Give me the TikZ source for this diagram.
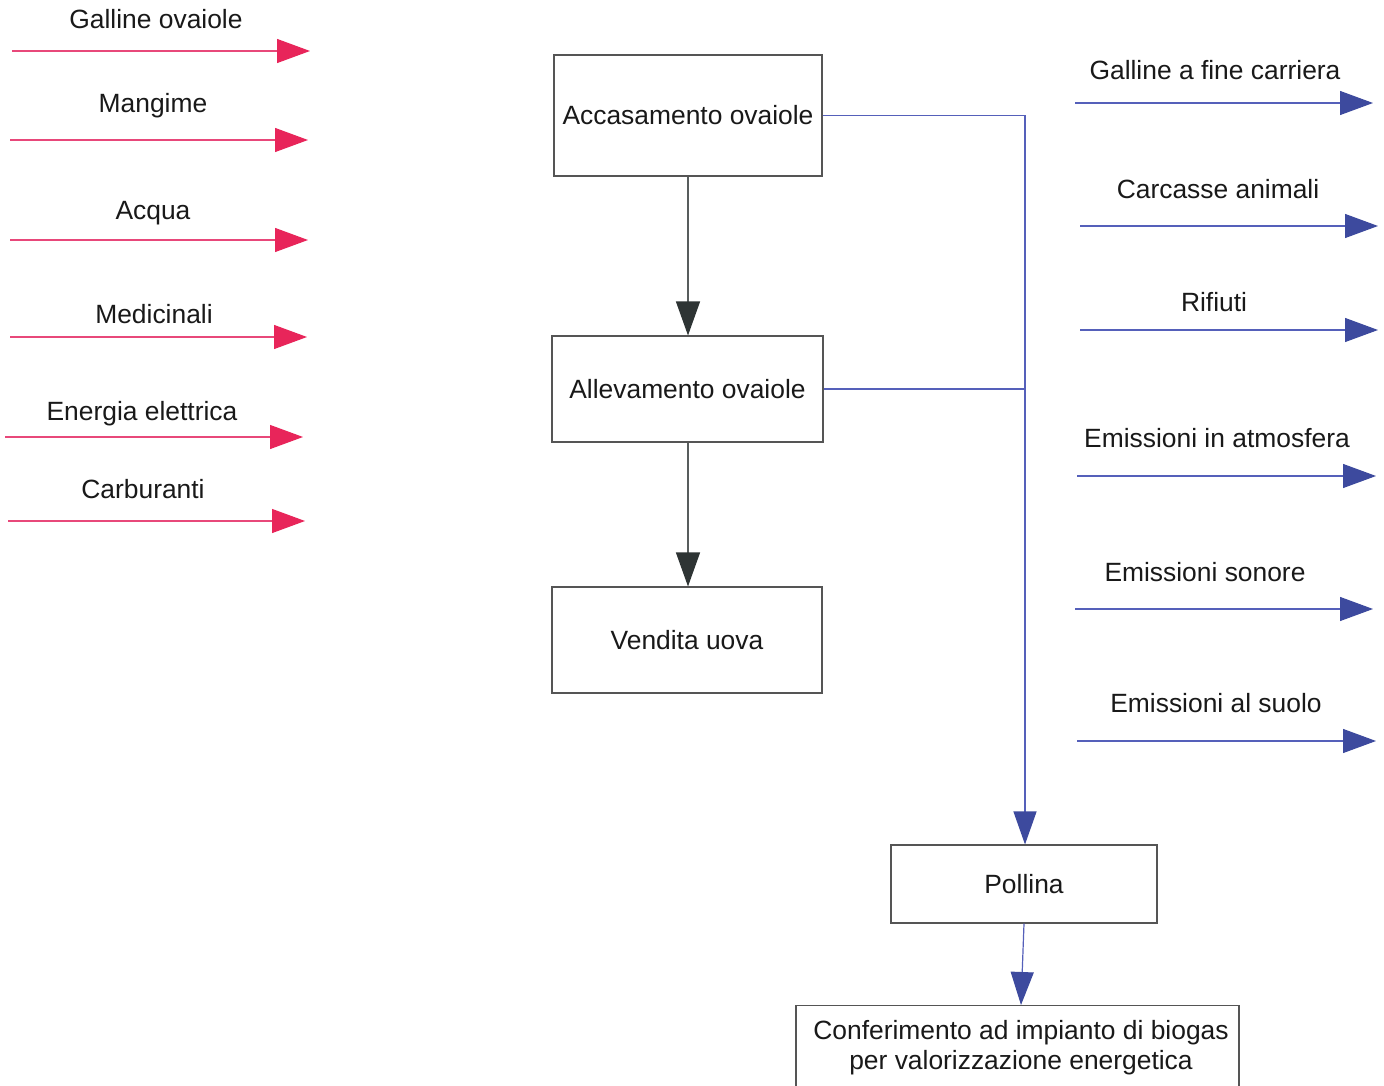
\documentclass[tikz,border=0pt]{standalone}
\usepackage{fontspec}
\setmainfont{Liberation Sans}
\usetikzlibrary{arrows.meta}
\definecolor{pinkline}{HTML}{E8487A}
\definecolor{pinkhead}{HTML}{E8255A}
\definecolor{blueline}{HTML}{5560BA}
\definecolor{bluehead}{HTML}{3D4A9E}
\definecolor{darkhead}{HTML}{2E3434}
\definecolor{boxline}{HTML}{555555}
\tikzset{
  x=1pt, y=-1pt,
  every node/.style={font=\fontsize{26.4}{30}\selectfont, text=black!90},
  lbl/.style={anchor=base, inner sep=0},
  stagebox/.style={draw=boxline, line width=1.1pt, inner sep=0, align=center},
  inarrow/.style={draw=pinkline, line width=1.1pt, -{Triangle[length=33pt,width=24pt,fill=pinkhead,color=pinkhead]}},
  outarrow/.style={draw=blueline, line width=1.1pt, -{Triangle[length=33pt,width=24pt,fill=bluehead,color=bluehead]}},
  flowline/.style={draw=blueline, line width=1.2pt},
  flowarrow/.style={draw=blueline, line width=1.2pt, -{Triangle[length=33pt,width=23pt,fill=bluehead,color=bluehead]}},
  downarrow/.style={draw=darkhead!80, line width=1.2pt, -{Triangle[length=34pt,width=24pt,fill=darkhead,color=darkhead]}},
}
\begin{document}
\begin{tikzpicture}
\useasboundingbox[fill=white] (0,0) rectangle (1384,1086);

% left inputs
\node[lbl] (l1) at (156,29) {Galline ovaiole};
\node[lbl] (l2) at (153,113) {Mangime};
\node[lbl] (l3) at (153,219) {Acqua};
\node[lbl] (l4) at (154,323) {Medicinali};
\node[lbl] (l5) at (142,420) {Energia elettrica};
\node[lbl] (l6) at (143,498) {Carburanti};
\coordinate (a1s) at (12,51);  \coordinate (a1e) at (310,51);
\coordinate (a2s) at (10,140); \coordinate (a2e) at (308,140);
\coordinate (a3s) at (10,240); \coordinate (a3e) at (308,240);
\coordinate (a4s) at (10,337); \coordinate (a4e) at (307,337);
\coordinate (a5s) at (5,437);  \coordinate (a5e) at (303,437);
\coordinate (a6s) at (8,521);  \coordinate (a6e) at (305,521);
\foreach \i in {1,...,6} \draw[inarrow] (a\i s) -- (a\i e);

% central boxes
\node[stagebox, minimum width=268, minimum height=121] (acc) at (688,115.5) {Accasamento ovaiole};
\node[stagebox, minimum width=271, minimum height=106] (all) at (687.5,389) {Allevamento ovaiole};
\node[stagebox, minimum width=270, minimum height=106] (ven) at (687,640) {Vendita uova};
\node[stagebox, minimum width=266, minimum height=78] (pol) at (1024,884) {Pollina};
\node[stagebox, minimum width=443, minimum height=100, anchor=north] (conf) at (1017.5,1005) {};
\node[inner sep=0, align=center] (conftext) at (1021,1048) {Conferimento ad impianto di biogas\\per valorizzazione energetica};

\draw[downarrow] (acc.south) -- (all.north -| acc.south);
\draw[downarrow] (all.south -| acc.south) -- (ven.north -| acc.south);

% blue flow to pollina
\coordinate (j1) at (1025,115.5);
\coordinate (j2) at (1025,389);
\coordinate (ct) at (1021,1005);
\draw[flowline] (acc.east) -- (j1) -- (j2);
\draw[flowline] (all.east) -- (j2);
\draw[flowarrow] (j2) -- (pol.north -| j2);
\draw[flowarrow] (pol.south) -- (ct);

% right outputs
\node[lbl] (r1) at (1215,80) {Galline a fine carriera};
\node[lbl] (r2) at (1218,199) {Carcasse animali};
\node[lbl] (r3) at (1214,311) {Rifiuti};
\node[lbl] (r4) at (1217,447) {Emissioni in atmosfera};
\node[lbl] (r5) at (1205,581) {Emissioni sonore};
\node[lbl] (r6) at (1216,712) {Emissioni al suolo};
\coordinate (b1s) at (1075,103); \coordinate (b1e) at (1373,103);
\coordinate (b2s) at (1080,226); \coordinate (b2e) at (1378,226);
\coordinate (b3s) at (1080,330); \coordinate (b3e) at (1378,330);
\coordinate (b4s) at (1077,476); \coordinate (b4e) at (1376,476);
\coordinate (b5s) at (1075,609); \coordinate (b5e) at (1373,609);
\coordinate (b6s) at (1077,741); \coordinate (b6e) at (1376,741);
\foreach \i in {1,...,6} \draw[outarrow] (b\i s) -- (b\i e);
\end{tikzpicture}
\end{document}
